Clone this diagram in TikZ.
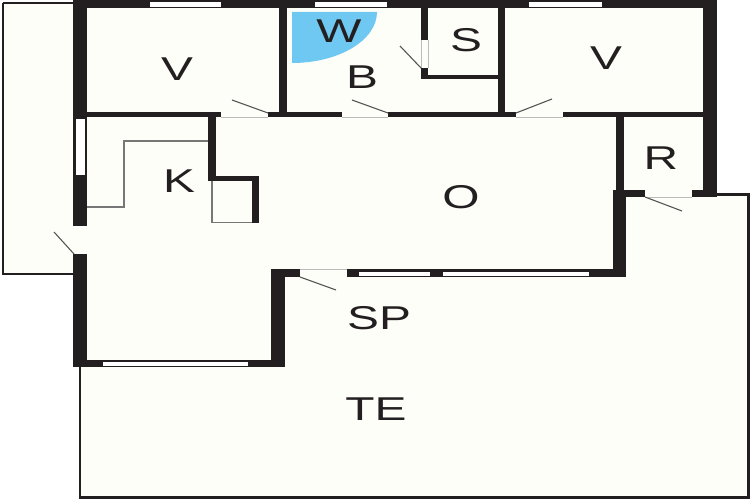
\documentclass[tikz,border=0pt]{standalone}
\usepackage{fontspec}
\setmainfont{Liberation Sans}
\definecolor{wallc}{HTML}{231F20}
\definecolor{floorc}{HTML}{FEFEF9}
\definecolor{bluec}{HTML}{6FC8F2}
\definecolor{leafc}{HTML}{555555}
\definecolor{counterc}{HTML}{777777}
\newcommand{\wl}[4]{\fill[wallc] (#1,#2) rectangle (#3,#4);}
\newcommand{\win}[4]{\fill[white] (#1,#2) rectangle (#3,#4);}
\newcommand{\gap}[4]{\fill[floorc] (#1,#2) rectangle (#3,#4);}
\tikzset{
  lbl/.style={font=\fontsize{33}{33}\selectfont, text=wallc, inner sep=0pt},
  leaf/.style={draw=leafc, line width=1.1pt},
  counter/.style={draw=counterc, line width=1.2pt},
  outline/.style={draw=wallc, line width=1.8pt},
}
\newcommand{\stretched}[1]{\scalebox{1.45}[1]{#1}}
\begin{document}
\begin{tikzpicture}[x=1pt,y=-1pt]
\useasboundingbox (0,0) rectangle (750,500);
\fill[white] (0,0) rectangle (750,500);
% floor
\fill[floorc] (3,4) -- (80,4) -- (80,0) -- (710,0) -- (710,195) -- (748,195) -- (748,498) -- (80,498) -- (80,366) -- (76,366) -- (76,274) -- (3,274) -- cycle;
% terraces
\draw[outline] (3,3) -- (74,3);
\draw[outline, line width=2.4pt] (3,3) -- (3,274) -- (74,274);
\draw[outline, line width=2.6pt] (80,367) -- (80,497.5) -- (750,497.5);
\draw[outline, line width=2.2pt] (717,194.5) -- (748.5,194.5) -- (748.5,497.5);
% blue W
\fill[bluec] (292,12) -- (377,12) arc[start angle=0, end angle=90, x radius=85pt, y radius=-51pt] -- cycle;
% outer walls
\wl{73}{0}{87}{367}
\wl{73}{0}{717}{8}
\wl{703}{0}{717}{197}
\wl{73}{360}{285}{367}
\wl{271}{269}{285}{367}
\wl{271}{269}{300}{277}
\wl{347}{269}{626}{277}
\wl{613}{190}{626}{277}
\wl{613}{190}{717}{197}
% inner walls
\wl{87}{112}{703}{117}
\wl{279}{8}{287}{116}
\wl{498}{8}{505}{116}
\wl{421}{8}{428}{79}
\wl{421}{75}{498}{79}
\wl{616}{117}{624}{190}
\wl{208}{117}{216}{181}
\wl{208}{176}{259}{181}
\wl{252}{176}{259}{223}
% windows
\win{150}{2}{221}{7}
\win{315}{2}{387}{7}
\win{529}{2}{602}{7}
\win{75.5}{119.5}{84.5}{175}
\win{103}{362}{248}{366}
\win{359}{272}{430}{275.5}
\win{443}{272}{589}{275.5}
% door openings
\gap{221}{112}{268}{117}
\gap{341.5}{112}{388}{117}
\gap{516}{112}{562.5}{117}
\gap{645}{190}{692}{197}
\gap{300}{269.5}{347}{277.5}
\gap{72}{226}{88}{254}
\gap{421}{40}{428}{68}
\draw[counterc!50, line width=.5pt] (221,117) -- (268,117) (341.5,117) -- (388,117) (516,117) -- (562.5,117) (645,197.5) -- (692,197.5) (300,269.5) -- (347,269.5) (421,40) -- (421,68) (428,40) -- (428,68);
% door leaves
\draw[leaf] (268,113) -- (232,100);
\draw[leaf] (388,113) -- (352,100);
\draw[leaf] (516,113) -- (552,99);
\draw[leaf] (421,68) -- (400,46);
\draw[leaf] (645,197) -- (682,211);
\draw[leaf] (300,277) -- (336,290);
\draw[leaf] (74,254) -- (54,232);
% kitchen fittings
\draw[counter] (208,141) -- (124,141) -- (124,207) -- (87,207);
\draw[counter] (212,181) -- (212,222.5) -- (252,222.5);
% labels
\node[lbl] (v1) at (177,69) {\stretched{V}};
\node[lbl] (v2) at (606,58) {\stretched{V}};
\node[lbl] (w) at (339,31) {\stretched{W}};
\node[lbl] (b) at (362,77) {\stretched{B}};
\node[lbl] (s) at (466,40) {\stretched{S}};
\node[lbl] (r) at (661,158) {\stretched{R}};
\node[lbl] (k) at (179,181) {\stretched{K}};
\node[lbl] (o) at (461,197) {\stretched{O}};
\node[lbl] (sp) at (379,318) {\stretched{SP}};
\node[lbl] (te) at (376,409) {\stretched{TE}};
\end{tikzpicture}
\end{document}
